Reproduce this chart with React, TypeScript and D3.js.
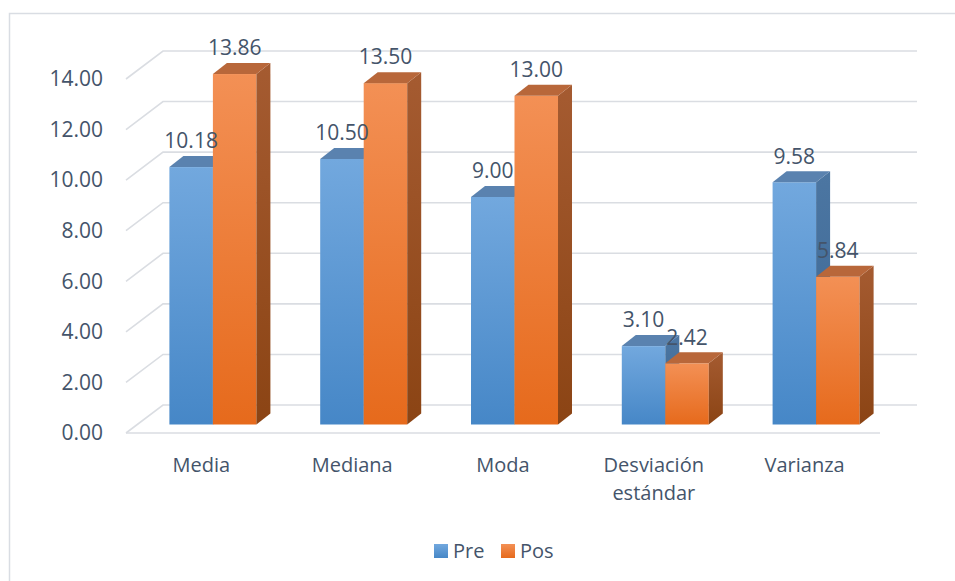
import React from "react";
import * as d3 from "d3";

const categories = ["Media", "Mediana", "Moda", "Desviación estándar", "Varianza"];
const seriesNames = ["Pre", "Pos"];
const preValues = [10.18, 10.5, 9.0, 3.1, 9.58];
const posValues = [13.86, 13.5, 13.0, 2.42, 5.84];
const yTicks = [0, 2, 4, 6, 8, 10, 12, 14];

const W = 955;
const H = 581;
const FONT = "'Open Sans', 'Noto Sans', sans-serif";
const TXT = "#44546A";
const GRID = "#dadde2";

// 3D geometry
const DX = 37; // floor depth x
const DY = 28; // floor depth y
const BDX = 14; // bar depth x
const BDY = 11; // bar depth y
const OFFX = (DX - BDX) / 2;
const OFFY = (DY - BDY) / 2;

export default function App() {
  const x = d3.scaleBand<string>().domain(categories).range([126, 880]).paddingInner(0.423).paddingOuter(0.2115);
  const xs = d3.scaleBand<string>().domain(seriesNames).range([0, x.bandwidth()]);
  const y = d3.scaleLinear().domain([0, 14]).range([433, 79]);

  const series = [
    { name: "Pre", values: preValues, front: "url(#gBlueFront)", top: "#5A82AF", side: "url(#gBlueSide)" },
    { name: "Pos", values: posValues, front: "url(#gOrFront)", top: "#B8673A", side: "url(#gOrSide)" },
  ];

  const bars: React.ReactNode[] = [];
  const labels: React.ReactNode[] = [];
  categories.forEach((c, ci) => {
    series.forEach((s) => {
      const v = s.values[ci];
      const x0 = (x(c) as number) + (xs(s.name) as number) + OFFX;
      const w = xs.bandwidth();
      const yb = y(0) - OFFY;
      const yt = y(v) - OFFY;
      bars.push(
        <g key={c + s.name}>
          <rect x={x0} y={yt} width={w} height={yb - yt} fill={s.front} />
          <polygon
            points={`${x0 + w},${yt} ${x0 + w + BDX},${yt - BDY} ${x0 + w + BDX},${yb - BDY} ${x0 + w},${yb}`}
            fill={s.side}
          />
          <polygon
            points={`${x0},${yt} ${x0 + BDX},${yt - BDY} ${x0 + w + BDX},${yt - BDY} ${x0 + w},${yt}`}
            fill={s.top}
          />
        </g>
      );
      labels.push(
        <text key={"l" + c + s.name} x={x0 + w / 2} y={yt - 26} dy="0.35em" textAnchor="middle" fontSize={21} fill={TXT} fontFamily={FONT}>
          {v.toFixed(2)}
        </text>
      );
    });
  });

  const x1 = 126;
  const x2 = 880;

  return (
    <svg width={W} height={H} style={{ position: "absolute", left: 0, top: 0, background: "#fff" }}>
      <defs>
        <linearGradient id="gBlueFront" x1="0" y1="0" x2="0" y2="1">
          <stop offset="0" stopColor="#72A8DE" />
          <stop offset="1" stopColor="#4687C7" />
        </linearGradient>
        <linearGradient id="gBlueSide" x1="0" y1="0" x2="0" y2="1">
          <stop offset="0" stopColor="#4C76A2" />
          <stop offset="1" stopColor="#3A6693" />
        </linearGradient>
        <linearGradient id="gOrFront" x1="0" y1="0" x2="0" y2="1">
          <stop offset="0" stopColor="#F39055" />
          <stop offset="1" stopColor="#E66A1C" />
        </linearGradient>
        <linearGradient id="gOrSide" x1="0" y1="0" x2="0" y2="1">
          <stop offset="0" stopColor="#A55B31" />
          <stop offset="1" stopColor="#8B4414" />
        </linearGradient>
      </defs>
      <rect x={9.5} y={13.5} width={W} height={H} fill="none" stroke="#d9dde3" strokeWidth={1.5} />

      {/* gridlines */}
      {yTicks.map((t) => (
        <g key={"g" + t}>
          <polyline
            points={`${x1},${y(t)} ${x1 + DX},${y(t) - DY} ${x2 + DX},${y(t) - DY}`}
            fill="none"
            stroke={GRID}
            strokeWidth={1.6}
          />
          <text x={103} y={y(t)} dy="0.35em" textAnchor="end" fontSize={21} fill={TXT} fontFamily={FONT}>
            {t.toFixed(2)}
          </text>
        </g>
      ))}
      <line x1={x1} y1={y(0)} x2={x2} y2={y(0)} stroke={GRID} strokeWidth={1.6} />

      {bars}
      {labels}

      {/* category labels */}
      {categories.map((c) => {
        const words = c.split(" ");
        const cx = (x(c) as number) + x.bandwidth() / 2;
        return (
          <text key={"c" + c} x={cx} y={472} textAnchor="middle" fontSize={20} fill={TXT} fontFamily={FONT}>
            {words.map((wd, i) => (
              <tspan key={i} x={cx} dy={i === 0 ? 0 : 28}>
                {wd}
              </tspan>
            ))}
          </text>
        );
      })}

      {/* legend */}
      <rect x={434} y={544} width={14} height={14} fill="url(#gBlueFront)" />
      <text x={453} y={551} dy="0.35em" fontSize={20} fill={TXT} fontFamily={FONT}>
        Pre
      </text>
      <rect x={501} y={544} width={14} height={14} fill="url(#gOrFront)" />
      <text x={520} y={551} dy="0.35em" fontSize={20} fill={TXT} fontFamily={FONT}>
        Pos
      </text>
    </svg>
  );
}
